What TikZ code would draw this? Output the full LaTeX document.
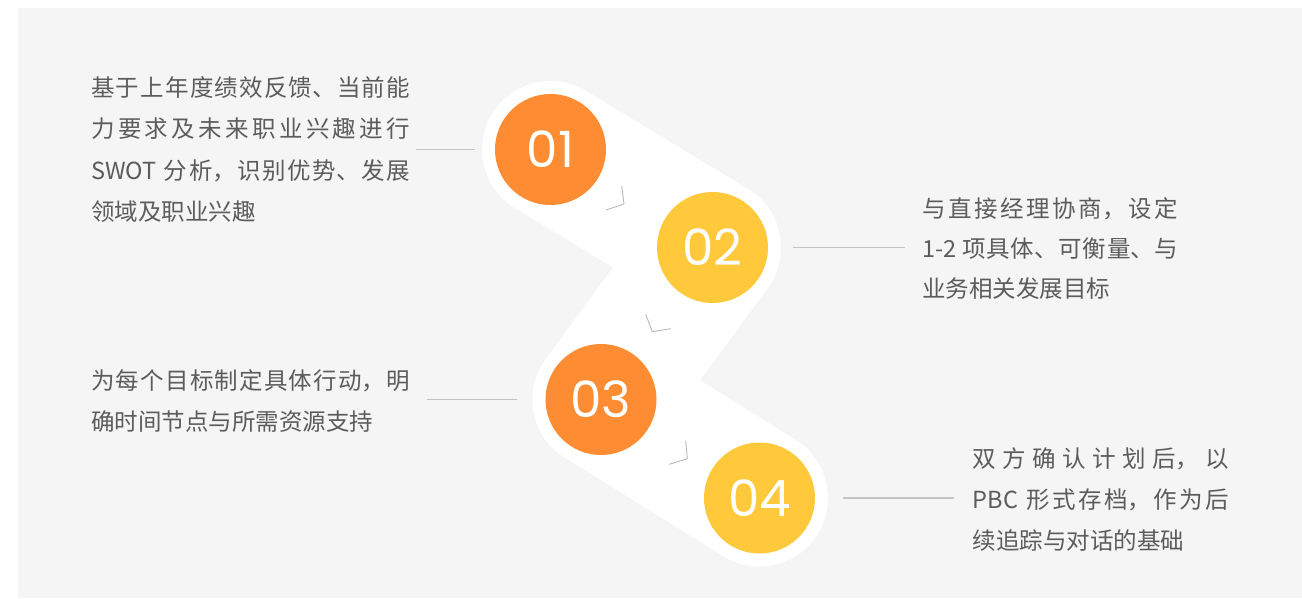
\documentclass[tikz,border=0pt]{standalone}
\usepackage{fontspec}
\setmainfont{Noto Sans CJK SC}
\newfontfamily\numfont{Poppins}
\XeTeXlinebreaklocale "zh"
\XeTeXlinebreakskip=0pt plus 2pt
\tolerance=9999
\hbadness=10000
\definecolor{bggray}{HTML}{F5F5F5}
\definecolor{steporange}{HTML}{FD8C32}
\definecolor{stepyellow}{HTML}{FFC93B}
\definecolor{textgray}{HTML}{5C5C5C}
\definecolor{leadgray}{HTML}{C4C4C4}
\definecolor{chevgray}{HTML}{B8B8B8}
\begin{document}
\begin{tikzpicture}[x=1pt, y=-1pt,
  stepdot/.style={circle, minimum size=111, inner sep=0, text=white, font=\numfont\fontsize{50}{50}\selectfont},
  desc/.style={anchor=base west, inner sep=0, align=justify, text=textgray, font=\fontsize{23.5}{41.5}\selectfont},
  leader/.style={draw=leadgray, line width=1.1},
  chev/.style={draw=chevgray, line width=0.9}]
  \useasboundingbox (0,0) rectangle (1302,598);
  \fill[bggray] (18,8) rectangle (1302,598);
  % white band behind the circles
  \coordinate (p1) at (550.5,149.5);
  \coordinate (p2) at (712.5,247.5);
  \coordinate (p3) at (601,399.5);
  \coordinate (p4) at (759.5,498);
  \draw[white, line width=137, line cap=round, line join=round] (p1) -- (p2) -- (p3) -- (p4);
  % circles
  \node[stepdot, fill=steporange] (c1) at (p1) {01};
  \node[stepdot, fill=stepyellow] (c2) at (p2) {02};
  \node[stepdot, fill=steporange] (c3) at (p3) {03};
  \node[stepdot, fill=stepyellow] (c4) at (p4) {04};
  % chevrons
  \draw[chev] (621.7,186) -- (624,204) -- (606,210);
  \draw[chev] (645.7,314.3) -- (652.3,331.7) -- (670.7,328.7);
  \draw[chev] (685.7,440.7) -- (687.3,458.7) -- (669.3,464.3);
  % texts
  \node[desc, text width=319] (t1) at (91,96) {基于上年度绩效反馈、当前能\linebreak 力要求及未来职业兴趣进行\linebreak SWOT 分析，识别优势、发展\linebreak 领域及职业兴趣};
  \node[desc, text width=256, font=\fontsize{23.5}{40}\selectfont] (t2) at (922,217) {与直接经理协商，设定\linebreak 1-2 项具体、可衡量、与\linebreak 业务相关发展目标};
  \node[desc, text width=319] (t3) at (91,389) {为每个目标制定具体行动，明\linebreak 确时间节点与所需资源支持};
  \node[desc, text width=256, font=\fontsize{23.5}{41}\selectfont] (t4) at (972.7,467) {双方确认计划后，以\linebreak PBC 形式存档，作为后\linebreak 续追踪与对话的基础};
  % leader lines
  \draw[leader] (c1.west) ++(-20,0) -- ++(-59,0);
  \draw[leader] (c2.east) ++(25,0) -- ++(112,0);
  \draw[leader] (c3.west) ++(-28,0) -- ++(-90,0);
  \draw[leader] (c4.east) ++(28,0) -- ++(111,0);
\end{tikzpicture}
\end{document}
